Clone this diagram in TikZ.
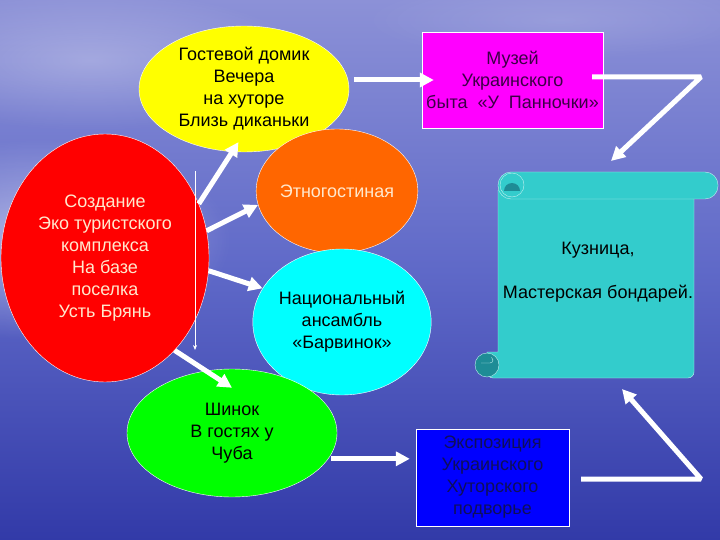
\documentclass[tikz,border=0pt]{standalone}
\usepackage{fontspec}
\setmainfont{Liberation Sans}
\usetikzlibrary{shapes, arrows.meta, calc, positioning, fadings}
\definecolor{skytop}{RGB}{140,145,215}
\definecolor{skymid}{RGB}{95,105,200}
\definecolor{seabot}{RGB}{50,58,168}
\definecolor{scrollteal}{RGB}{51,204,204}
\definecolor{scrolldark}{RGB}{30,140,150}
\definecolor{redball}{RGB}{255,0,0}
\definecolor{yellowball}{RGB}{255,255,0}
\definecolor{orangeball}{RGB}{255,102,0}
\definecolor{cyanball}{RGB}{0,255,255}
\definecolor{greenball}{RGB}{0,255,0}
\definecolor{magbox}{RGB}{255,0,255}
\definecolor{bluebox}{RGB}{0,0,255}
\definecolor{paletext}{RGB}{255,232,205}
\definecolor{magtext}{RGB}{60,0,70}
\definecolor{expotext}{RGB}{15,15,90}

\tikzset{
  bubble/.style={draw=white, thin, ellipse, inner sep=0pt, align=center, font=\fontsize{18}{22}\selectfont},
  plate/.style={draw=white, thin, rectangle, inner sep=0pt, align=center, font=\fontsize{18}{22}\selectfont},
  scrollpart/.style={fill=scrollteal, draw=white!70!scrollteal, thin},
  fatarrow/.style={draw=white, line width=5pt, line join=bevel, -{Triangle[length=14pt,width=14pt]}},
  thinarrow/.style={draw=white, line width=0.6pt, -{Stealth[length=5pt,width=4pt]}}
}
\tikzfading[name=glow, inner color=transparent!10, outer color=transparent!100]

\begin{document}
\begin{tikzpicture}[x=1pt, y=-1pt]
    \useasboundingbox (0,0) rectangle (720,540);

    % sky and sea
    \fill[top color=skytop, bottom color=seabot, middle color=skymid] (0,0) rectangle (720,540);
    \fill[white, path fading=glow, opacity=0.55] (40,240) ellipse (190 and 100);
    \fill[white, path fading=glow, opacity=0.3] (90,60) ellipse (220 and 70);
    \fill[white, path fading=glow, opacity=0.15] (560,20) ellipse (200 and 40);

    % bubbles
    \node[bubble, fill=redball, text=paletext, minimum width=208pt, minimum height=248pt] (sozd) at (105,258) {Создание\\Эко туристского\\комплекса\\На базе\\поселка\\Усть Брянь};
    \node[bubble, fill=yellowball, text=black, minimum width=210pt, minimum height=126pt] (gost) at (244,89) {Гостевой домик\\Вечера\\на хуторе\\Близь диканьки};
    \node[bubble, fill=orangeball, text=paletext, minimum width=146pt, minimum height=124pt] (etno) at (337,191) {Этногостиная};
    \node[bubble, fill=cyanball, text=black, minimum width=158pt, minimum height=146pt] (ansm) at (342,322) {Национальный\\ансамбль\\«Барвинок»};
    \node[bubble, fill=greenball, text=black, minimum width=210pt, minimum height=128pt] (shin) at (232,433) {Шинок\\В гостях у\\Чуба};

    % boxes
    \node[plate, fill=magbox, text=magtext, minimum width=181pt, minimum height=96pt] (muz) at (512.5,80) {Музей\\Украинского\\быта~~«У~~Панночки»};
    \node[plate, fill=bluebox, text=expotext, minimum width=153pt, minimum height=97pt] (expo) at (492.5,477.5) {Экспозиция\\Украинского\\Хуторского\\подворье};

    % scroll
    \draw[scrollpart] (498,190) -- (694,190) {[rounded corners=6pt] -- (694,378) -- (487,378)} -- (487,352) -- (498,352) -- cycle;
    \draw[scrollpart, rounded corners=13pt] (498,172) rectangle (718,199);
    \fill[scrolldark] (504,191) arc (180:360:8) -- cycle;
    \draw[white!70!scrollteal, thin] (512,185) circle (12);
    \fill[scrolldark] (487,365) circle (12);
    \draw[white!70!scrollteal, thin] (487,365) circle (12);
    \draw[white!70!scrollteal, thin] (481,363) -- (490,363) arc (90:-60:3);
    \node[align=center, font=\fontsize{18}{22}\selectfont, text=black] (kuzn) at (598,272) {Кузница,\\[22pt]Мастерская бондарей.};

    % connectors
    \coordinate (tl1) at (195,171);
    \coordinate (tl2) at (195,350);
    \coordinate (bendA) at (701,77);
    \coordinate (tipA) at (611,161);
    \coordinate (bendB) at (701,479);
    \coordinate (tipB) at (622,389);

    \draw[thinarrow] (tl1) -- (tl2);
    \draw[fatarrow] (sozd.30) -- ([yshift=10pt]gost.265);
    \draw[fatarrow] (sozd.15) -- (etno.190);
    \draw[fatarrow] (sozd.-7) -- (ansm.157);
    \draw[fatarrow] (sozd.-53) -- ([yshift=-19pt]shin.north);
    \draw[fatarrow, shorten <=5pt, shorten >=-12pt] (gost.east |- muz.west) -- (muz.west);
    \draw[fatarrow, shorten <=-11pt] (muz.east |- bendA) -- (bendA) -- (tipA);
    \draw[fatarrow, shorten <=3pt, shorten >=6pt] (shin.-15) -- (shin.-15 -| expo.west);
    \draw[fatarrow, shorten <=12pt] (expo.east |- bendB) -- (bendB) -- (tipB);
\end{tikzpicture}
\end{document}
